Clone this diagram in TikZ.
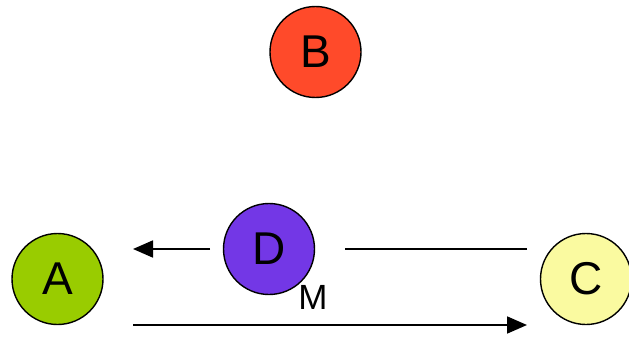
\documentclass[tikz,border=0pt]{standalone}
\usepackage{fontspec}
\setmainfont{Liberation Sans}
\usepackage{tikz}
\usetikzlibrary{arrows.meta}
\definecolor{agreen}{HTML}{99CC00}
\definecolor{bred}{HTML}{FF4A2A}
\definecolor{cyellow}{HTML}{FAFAA0}
\definecolor{dpurple}{HTML}{7337E6}

\begin{document}
\begin{tikzpicture}[x=1pt, y=-1pt,
		ball/.style={circle, draw=black, line width=1.4pt, minimum size=91pt, inner sep=0pt, font=\fontsize{46}{46}\selectfont},
		link/.style={line width=1.8pt},
		arr/.style={link, -{Triangle[length=20pt, width=17pt]}}]
			\useasboundingbox (0,0) rectangle (629,337);
			\node[ball, fill=bred] (b) at (315.5,52) {B};
			\node[ball, fill=dpurple] (d) at (269,249) {D};
			\node[ball, fill=agreen] (a) at (57.5,279) {A};
			\node[ball, fill=cyellow] (c) at (586,279) {C};
			\node[font=\fontsize{35}{35}\selectfont] (m) at (313,297) {M};
			% upper connector, broken by D
			\coordinate (cu) at (527,249);
			\coordinate (du) at (345,249);
			\coordinate (dl) at (210,249);
			\coordinate (au) at (133,249);
			\draw[link] (cu) -- (du);
			\draw[arr] (dl) -- (au);
			% lower connector
			\coordinate (al) at (133,325);
			\coordinate (cl) at (527,325);
			\draw[arr] (al) -- (cl);
		\end{tikzpicture}
\end{document}
